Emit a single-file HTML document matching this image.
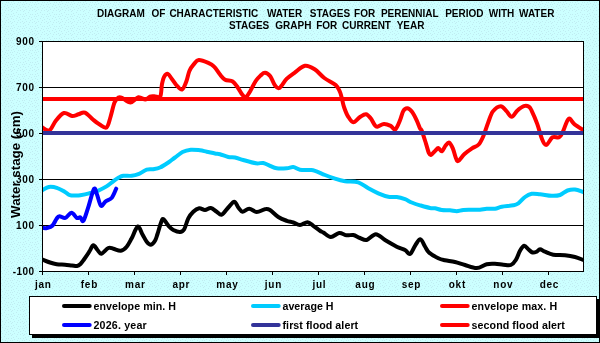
<!DOCTYPE html>
<html><head><meta charset="utf-8"><style>html,body{margin:0;padding:0;background:#fff;}svg{display:block;will-change:transform;}</style></head>
<body><svg width="600" height="343" viewBox="0 0 600 343"><defs><clipPath id="pc"><rect x="43" y="42" width="540" height="229"/></clipPath><pattern id="bgp" width="12" height="12" patternUnits="userSpaceOnUse"><rect width="12" height="12" fill="#CCFFFF"/><path d="M4 0h1v1h-1zM1 1h1v1h-1zM6 2h1v1h-1zM8 2h1v1h-1zM11 2h1v1h-1zM2 3h1v1h-1zM0 4h1v1h-1zM5 4h1v1h-1zM10 4h1v1h-1zM7 5h1v1h-1zM4 6h1v1h-1zM11 6h1v1h-1zM1 7h1v1h-1zM8 7h1v1h-1zM6 8h1v1h-1zM2 9h1v1h-1zM10 9h1v1h-1zM0 10h1v1h-1zM5 10h1v1h-1zM8 10h1v1h-1zM11 11h1v1h-1z" fill="#C0ECF1"/></pattern></defs>
<rect x="0" y="0" width="600" height="343" fill="url(#bgp)"/>
<rect x="0.5" y="0.5" width="599" height="342" fill="none" stroke="#000" stroke-width="1"/>
<g font-family='"Liberation Sans", sans-serif' font-weight="bold" font-size="10" fill="#000"><text x="97.1" y="17">DIAGRAM</text><text x="151.4" y="17">OF</text><text x="169.4" y="17">CHARACTERISTIC</text><text x="266.9" y="17">WATER</text><text x="309.8" y="17">STAGES</text><text x="354.1" y="17">FOR</text><text x="380.9" y="17">PERENNIAL</text><text x="445.2" y="17">PERIOD</text><text x="488.7" y="17">WITH</text><text x="519.0" y="17">WATER</text><text x="228.9" y="29">STAGES</text><text x="275.3" y="29">GRAPH</text><text x="316.2" y="29">FOR</text><text x="342.1" y="29">CURRENT</text><text x="396.7" y="29">YEAR</text></g>
<rect x="42.5" y="41.5" width="541" height="230" fill="#fff" stroke="#000" stroke-width="1"/>
<line x1="42" y1="87.5" x2="584" y2="87.5" stroke="#000" stroke-width="1"/>
<line x1="42" y1="133.5" x2="584" y2="133.5" stroke="#000" stroke-width="1"/>
<line x1="42" y1="179.5" x2="584" y2="179.5" stroke="#000" stroke-width="1"/>
<line x1="42" y1="225.5" x2="584" y2="225.5" stroke="#000" stroke-width="1"/>
<line x1="39" y1="41.5" x2="43" y2="41.5" stroke="#000" stroke-width="1"/>
<line x1="39" y1="87.5" x2="43" y2="87.5" stroke="#000" stroke-width="1"/>
<line x1="39" y1="133.5" x2="43" y2="133.5" stroke="#000" stroke-width="1"/>
<line x1="39" y1="179.5" x2="43" y2="179.5" stroke="#000" stroke-width="1"/>
<line x1="39" y1="225.5" x2="43" y2="225.5" stroke="#000" stroke-width="1"/>
<line x1="39" y1="271.5" x2="43" y2="271.5" stroke="#000" stroke-width="1"/>
<line x1="42.5" y1="271" x2="42.5" y2="275" stroke="#000" stroke-width="1"/>
<line x1="88.5" y1="271" x2="88.5" y2="275" stroke="#000" stroke-width="1"/>
<line x1="134.5" y1="271" x2="134.5" y2="275" stroke="#000" stroke-width="1"/>
<line x1="180.5" y1="271" x2="180.5" y2="275" stroke="#000" stroke-width="1"/>
<line x1="226.5" y1="271" x2="226.5" y2="275" stroke="#000" stroke-width="1"/>
<line x1="272.5" y1="271" x2="272.5" y2="275" stroke="#000" stroke-width="1"/>
<line x1="318.5" y1="271" x2="318.5" y2="275" stroke="#000" stroke-width="1"/>
<line x1="364.5" y1="271" x2="364.5" y2="275" stroke="#000" stroke-width="1"/>
<line x1="410.5" y1="271" x2="410.5" y2="275" stroke="#000" stroke-width="1"/>
<line x1="456.5" y1="271" x2="456.5" y2="275" stroke="#000" stroke-width="1"/>
<line x1="502.5" y1="271" x2="502.5" y2="275" stroke="#000" stroke-width="1"/>
<line x1="548.5" y1="271" x2="548.5" y2="275" stroke="#000" stroke-width="1"/>
<g font-family='"Liberation Sans", sans-serif' font-weight="bold" font-size="10" fill="#000"><text x="34" y="45.3" text-anchor="end" textLength="17.88" lengthAdjust="spacing">900</text><text x="34" y="91.3" text-anchor="end" textLength="17.88" lengthAdjust="spacing">700</text><text x="34" y="137.3" text-anchor="end" textLength="17.88" lengthAdjust="spacing">500</text><text x="34" y="183.3" text-anchor="end" textLength="17.88" lengthAdjust="spacing">300</text><text x="34" y="229.3" text-anchor="end" textLength="17.88" lengthAdjust="spacing">100</text><text x="34" y="275.3" text-anchor="end" textLength="21.21" lengthAdjust="spacing">-100</text><text x="43.0" y="287.5" text-anchor="middle" textLength="15.95" lengthAdjust="spacing">jan</text><text x="89.0" y="287.5" text-anchor="middle" textLength="16.50" lengthAdjust="spacing">feb</text><text x="135.0" y="287.5" text-anchor="middle" textLength="19.84" lengthAdjust="spacing">mar</text><text x="181.0" y="287.5" text-anchor="middle" textLength="17.06" lengthAdjust="spacing">apr</text><text x="227.0" y="287.5" text-anchor="middle" textLength="21.51" lengthAdjust="spacing">may</text><text x="273.0" y="287.5" text-anchor="middle" textLength="16.50" lengthAdjust="spacing">jun</text><text x="319.0" y="287.5" text-anchor="middle" textLength="13.17" lengthAdjust="spacing">jul</text><text x="365.0" y="287.5" text-anchor="middle" textLength="19.28" lengthAdjust="spacing">aug</text><text x="411.0" y="287.5" text-anchor="middle" textLength="18.73" lengthAdjust="spacing">sep</text><text x="457.0" y="287.5" text-anchor="middle" textLength="16.50" lengthAdjust="spacing">okt</text><text x="503.0" y="287.5" text-anchor="middle" textLength="19.28" lengthAdjust="spacing">nov</text><text x="549.0" y="287.5" text-anchor="middle" textLength="18.73" lengthAdjust="spacing">dec</text></g>
<text transform="translate(20.2,164.5) rotate(-90)" text-anchor="middle" font-family='"Liberation Sans", sans-serif' font-weight="bold" font-size="13.33" fill="#000">Water stage (cm)</text>
<g fill="none" stroke-linecap="round" stroke-linejoin="round" stroke-width="4" clip-path="url(#pc)">
<path d="M42.5,259.5 C43.8,260.0 47.6,261.7 50.0,262.5 C52.4,263.3 54.2,263.8 56.7,264.2 C59.2,264.6 62.5,264.5 65.0,264.7 C67.5,264.9 70.0,265.3 72.0,265.5 C74.0,265.7 75.6,266.2 77.0,266.0 C78.4,265.8 79.3,265.1 80.5,264.0 C81.7,262.9 82.5,261.6 84.0,259.5 C85.5,257.4 87.7,254.1 89.2,251.7 C90.8,249.3 91.9,245.6 93.3,245.3 C94.7,245.0 96.2,248.6 97.5,250.0 C98.8,251.4 99.5,254.0 101.3,253.7 C103.1,253.4 106.3,248.8 108.3,248.0 C110.3,247.2 111.2,248.2 113.3,248.7 C115.4,249.2 118.6,251.1 120.8,250.8 C123.0,250.5 124.9,248.8 126.7,246.7 C128.5,244.6 129.8,241.7 131.7,238.3 C133.5,234.9 136.0,227.1 137.8,226.5 C139.6,225.9 141.0,232.0 142.5,234.5 C144.0,237.0 145.3,240.0 146.7,241.7 C148.1,243.4 149.4,244.8 150.8,244.7 C152.2,244.5 153.9,242.6 155.0,240.8 C156.1,239.0 156.5,236.9 157.5,234.0 C158.5,231.1 159.8,225.8 160.8,223.3 C161.8,220.8 161.9,218.6 163.3,219.2 C164.7,219.8 167.5,224.9 169.2,226.7 C170.9,228.5 171.5,229.1 173.3,230.0 C175.1,230.9 178.2,232.1 180.0,232.0 C181.8,231.9 182.8,231.5 184.2,229.2 C185.6,226.9 186.8,221.2 188.3,218.3 C189.8,215.4 191.5,213.4 193.3,211.7 C195.1,210.0 197.2,208.6 199.2,208.3 C201.1,208.0 203.1,210.1 205.0,210.0 C206.9,209.9 208.9,207.7 210.8,208.0 C212.8,208.3 214.9,210.6 216.7,211.7 C218.5,212.8 219.8,215.4 221.7,214.7 C223.6,214.0 226.2,209.7 228.3,207.5 C230.4,205.3 232.5,201.7 234.2,201.7 C235.9,201.7 236.9,205.8 238.3,207.5 C239.7,209.2 240.7,211.5 242.5,211.7 C244.3,211.9 246.8,208.6 249.2,208.7 C251.6,208.8 254.1,211.9 256.7,212.0 C259.3,212.1 262.8,209.5 265.0,209.2 C267.2,208.9 267.8,208.7 270.0,210.0 C272.2,211.3 275.5,215.2 278.3,217.0 C281.1,218.8 284.2,219.9 286.7,220.8 C289.2,221.7 291.1,221.8 293.3,222.5 C295.5,223.2 297.6,225.1 300.0,225.0 C302.4,224.9 305.3,222.1 307.5,222.2 C309.7,222.3 311.2,224.4 313.3,225.8 C315.4,227.2 318.3,229.7 320.0,230.8 C321.7,231.9 321.5,231.5 323.3,232.5 C325.1,233.5 328.2,236.9 330.8,237.0 C333.4,237.1 336.6,233.3 339.2,233.0 C341.8,232.7 344.3,235.0 346.7,235.3 C349.1,235.6 351.1,234.6 353.3,235.0 C355.5,235.4 357.8,237.2 360.0,238.0 C362.2,238.8 364.1,240.6 366.7,240.0 C369.3,239.4 372.8,234.2 375.8,234.2 C378.9,234.2 381.5,237.9 385.0,240.0 C388.5,242.1 393.4,245.0 396.7,246.7 C400.0,248.4 402.8,248.8 405.0,250.0 C407.2,251.2 408.3,254.7 410.0,254.0 C411.7,253.3 413.3,248.3 415.0,245.8 C416.7,243.3 418.6,239.1 420.3,239.2 C422.0,239.3 423.6,244.3 425.0,246.5 C426.4,248.7 426.8,250.5 429.0,252.5 C431.2,254.5 435.6,257.0 438.3,258.3 C441.0,259.6 442.2,259.7 445.0,260.3 C447.8,260.9 451.7,261.2 455.0,262.0 C458.3,262.8 461.4,264.0 465.0,265.0 C468.6,266.0 473.1,268.1 476.7,268.0 C480.3,267.9 483.6,264.9 486.7,264.2 C489.8,263.5 492.2,263.7 495.0,263.8 C497.8,263.9 500.7,264.5 503.3,264.7 C505.9,264.9 508.7,265.8 510.8,265.0 C512.9,264.2 514.3,262.4 515.8,260.0 C517.3,257.6 518.6,253.2 520.0,250.8 C521.4,248.4 522.8,246.1 524.2,245.8 C525.6,245.5 526.9,248.1 528.3,249.2 C529.7,250.3 531.1,252.1 532.5,252.5 C533.9,252.9 535.5,252.2 536.7,251.7 C538.0,251.1 538.6,249.2 540.0,249.2 C541.4,249.2 542.8,250.8 545.0,251.7 C547.2,252.6 550.0,254.1 553.3,254.7 C556.6,255.3 561.4,254.9 565.0,255.3 C568.6,255.7 572.1,256.3 575.0,257.0 C577.9,257.7 581.2,259.2 582.5,259.7" stroke="#000"/>
<path d="M42.1,190.5 C43.2,189.9 46.2,187.3 48.8,186.9 C51.4,186.5 54.8,187.2 57.5,188.1 C60.2,188.9 62.9,190.8 65.0,192.0 C67.1,193.2 68.3,194.6 70.0,195.2 C71.7,195.8 73.3,195.6 75.0,195.6 C76.7,195.6 78.0,195.7 80.3,195.3 C82.6,194.9 86.1,194.2 89.0,193.4 C91.9,192.7 94.9,192.0 97.8,190.8 C100.7,189.6 103.9,188.0 106.5,186.4 C109.1,184.8 111.5,182.6 113.5,181.1 C115.5,179.6 117.2,178.5 118.8,177.6 C120.4,176.7 121.2,176.1 123.3,175.8 C125.4,175.5 129.2,176.1 131.7,175.8 C134.2,175.5 135.8,175.2 138.3,174.2 C140.8,173.2 144.2,170.5 146.7,169.7 C149.2,168.9 151.1,169.6 153.3,169.2 C155.5,168.8 157.5,168.6 160.0,167.5 C162.5,166.4 165.8,164.2 168.3,162.5 C170.8,160.8 172.6,159.2 175.0,157.5 C177.4,155.8 179.9,153.3 182.5,152.0 C185.1,150.7 187.9,150.0 190.8,149.7 C193.7,149.4 197.3,150.0 200.0,150.3 C202.7,150.6 204.2,151.2 206.7,151.7 C209.2,152.2 212.8,153.1 215.0,153.5 C217.2,153.9 217.8,153.6 220.0,154.2 C222.2,154.8 225.8,156.4 228.3,157.0 C230.8,157.6 232.5,157.0 235.0,157.5 C237.5,158.0 239.8,159.0 243.3,160.0 C246.8,161.0 252.7,162.8 256.0,163.3 C259.3,163.8 261.0,162.6 263.3,163.0 C265.6,163.4 267.8,164.9 270.0,165.8 C272.2,166.7 273.9,167.9 276.7,168.3 C279.5,168.7 283.9,168.5 286.7,168.3 C289.5,168.1 291.1,166.8 293.3,167.0 C295.5,167.2 297.2,169.2 300.0,169.7 C302.8,170.2 307.5,169.8 310.0,170.0 C312.5,170.2 312.5,170.0 315.0,170.8 C317.5,171.6 321.7,173.7 325.0,175.0 C328.3,176.3 331.7,177.6 335.0,178.7 C338.3,179.8 341.1,180.7 345.0,181.3 C348.9,181.9 354.4,181.1 358.3,182.3 C362.2,183.5 365.0,186.5 368.3,188.3 C371.6,190.1 375.0,191.9 378.3,193.3 C381.6,194.7 385.2,196.1 388.3,196.7 C391.4,197.3 393.9,196.6 396.7,197.0 C399.5,197.4 402.5,198.3 405.0,199.2 C407.5,200.1 409.2,201.5 411.7,202.5 C414.2,203.5 416.9,204.4 420.0,205.3 C423.1,206.2 427.5,207.5 430.0,208.0 C432.5,208.5 433.1,208.0 435.0,208.3 C436.9,208.6 439.2,209.7 441.7,210.0 C444.2,210.3 447.5,210.1 450.0,210.3 C452.5,210.5 454.5,211.2 456.7,211.2 C458.9,211.1 460.8,210.2 463.3,210.0 C465.8,209.8 468.9,209.8 471.7,209.7 C474.5,209.6 477.5,209.9 480.0,209.7 C482.5,209.5 484.2,208.9 486.7,208.7 C489.2,208.5 492.5,209.0 495.0,208.7 C497.5,208.4 498.6,207.3 501.7,206.7 C504.8,206.1 510.5,205.9 513.3,205.3 C516.1,204.7 516.3,204.7 518.3,203.3 C520.2,201.9 522.8,198.6 525.0,197.0 C527.2,195.4 529.2,194.3 531.7,193.8 C534.2,193.3 536.7,193.9 540.0,194.2 C543.3,194.5 548.4,195.7 551.7,195.8 C555.0,195.9 557.4,195.9 560.0,195.0 C562.6,194.1 565.0,191.4 567.5,190.5 C570.0,189.6 572.4,189.2 575.0,189.5 C577.6,189.8 581.9,191.6 583.3,192.0" stroke="#00CCFF"/>
<path d="M42.4,127.5 C43.2,128.0 45.6,130.0 47.0,130.3 C48.4,130.6 49.0,131.1 50.5,129.5 C52.0,127.9 53.8,123.2 56.0,120.5 C58.2,117.8 61.3,113.8 64.0,113.0 C66.7,112.2 69.6,115.8 72.0,116.0 C74.4,116.2 76.3,114.9 78.5,114.3 C80.7,113.7 82.5,111.7 84.9,112.6 C87.3,113.5 90.5,117.5 92.9,119.5 C95.3,121.5 97.0,123.0 99.3,124.3 C101.6,125.6 104.6,128.7 106.5,127.5 C108.4,126.3 109.2,121.2 110.5,117.0 C111.8,112.8 113.2,105.8 114.5,102.6 C115.8,99.3 117.2,98.3 118.5,97.5 C119.8,96.7 120.0,97.0 122.0,97.8 C124.0,98.6 127.8,102.6 130.5,102.5 C133.2,102.4 135.9,97.8 138.4,97.3 C140.9,96.8 143.5,99.7 145.4,99.6 C147.3,99.5 148.5,97.1 150.0,96.5 C151.5,95.9 152.7,96.2 154.4,96.2 C156.1,96.2 158.9,98.5 160.2,96.5 C161.5,94.5 161.3,87.3 162.0,84.0 C162.7,80.7 163.3,78.2 164.3,76.5 C165.3,74.8 166.5,73.4 167.8,73.8 C169.1,74.2 170.5,77.2 171.9,79.0 C173.3,80.8 174.5,83.0 176.2,84.8 C177.9,86.5 180.3,90.1 182.0,89.5 C183.7,88.9 185.3,84.1 186.5,81.0 C187.7,77.9 188.2,73.8 189.4,71.0 C190.6,68.2 192.1,66.2 193.7,64.4 C195.3,62.6 196.4,60.2 198.8,60.0 C201.2,59.8 205.8,61.8 208.3,62.9 C210.9,64.0 212.2,64.6 214.1,66.6 C216.0,68.5 218.2,72.4 220.0,74.6 C221.8,76.8 223.0,78.5 225.1,79.7 C227.2,80.9 230.6,80.2 232.7,81.5 C234.8,82.8 236.3,85.5 237.9,87.7 C239.5,89.9 240.9,93.2 242.3,94.7 C243.7,96.2 244.8,97.6 246.1,97.0 C247.4,96.4 248.6,93.8 250.2,91.2 C251.8,88.6 253.7,84.1 255.4,81.5 C257.1,78.9 259.1,76.9 260.7,75.4 C262.3,74.0 263.4,72.7 265.0,72.8 C266.6,72.9 268.7,74.3 270.3,76.3 C271.9,78.3 273.2,83.0 274.7,85.0 C276.2,87.0 277.3,89.0 279.3,88.0 C281.3,87.0 284.1,81.4 286.6,78.9 C289.1,76.4 291.4,75.0 294.5,72.8 C297.6,70.6 301.6,66.4 305.0,65.8 C308.4,65.2 311.5,67.3 314.7,69.3 C317.9,71.3 320.8,75.4 324.3,78.0 C327.8,80.6 333.1,82.7 335.7,85.0 C338.3,87.3 338.9,89.7 340.0,92.0 C341.1,94.3 341.3,96.5 342.0,99.0 C342.7,101.5 343.0,104.1 344.0,107.0 C345.0,109.9 346.4,113.8 348.0,116.3 C349.6,118.8 351.3,122.2 353.3,122.3 C355.3,122.4 357.9,118.3 360.0,117.0 C362.1,115.7 364.2,114.1 366.0,114.3 C367.8,114.5 369.2,116.5 370.7,118.3 C372.1,120.1 373.6,123.6 374.7,125.0 C375.8,126.4 375.8,126.9 377.3,126.7 C378.9,126.5 381.8,124.1 384.0,124.0 C386.2,123.9 388.8,125.0 390.7,125.9 C392.6,126.8 393.8,130.3 395.3,129.4 C396.9,128.5 398.7,123.4 400.0,120.3 C401.3,117.2 402.1,113.0 403.3,111.0 C404.5,109.0 405.9,108.2 407.3,108.3 C408.8,108.4 410.4,109.7 412.0,111.7 C413.6,113.7 415.4,117.5 416.7,120.3 C418.0,123.1 419.2,126.7 420.0,128.3 C420.8,130.0 420.6,127.7 421.6,130.2 C422.6,132.7 424.7,139.5 425.9,143.3 C427.1,147.1 427.9,150.9 428.8,152.8 C429.7,154.7 429.9,155.3 431.0,154.9 C432.1,154.5 434.2,151.8 435.4,150.6 C436.6,149.4 437.2,147.9 438.3,148.0 C439.4,148.1 440.7,151.7 441.9,151.3 C443.1,150.9 444.4,146.9 445.6,145.5 C446.8,144.1 448.0,142.1 449.2,142.6 C450.4,143.1 451.7,145.9 452.8,148.4 C453.9,150.9 454.9,155.7 455.8,157.8 C456.7,159.9 456.8,161.6 458.2,161.0 C459.6,160.4 462.2,156.1 464.5,154.0 C466.8,151.9 469.6,149.9 472.0,148.3 C474.4,146.7 476.8,146.6 478.7,144.5 C480.6,142.4 481.8,139.6 483.4,136.0 C485.0,132.4 486.5,126.8 488.1,122.7 C489.7,118.6 490.8,114.2 492.9,111.4 C495.0,108.7 498.5,106.2 500.8,106.2 C503.1,106.2 504.9,109.7 506.7,111.4 C508.5,113.2 509.9,116.8 511.7,116.7 C513.5,116.6 515.2,112.5 517.2,110.7 C519.2,109.0 521.8,106.9 523.8,106.2 C525.8,105.5 527.7,106.0 529.0,106.8 C530.3,107.6 530.3,107.9 531.7,110.8 C533.1,113.7 535.6,119.4 537.3,124.1 C539.0,128.8 540.6,135.7 542.1,139.2 C543.6,142.7 544.7,145.2 546.4,144.9 C548.1,144.6 550.4,138.6 552.5,137.3 C554.6,136.0 557.4,138.2 559.1,137.3 C560.8,136.4 561.3,134.8 562.9,131.7 C564.5,128.6 566.7,120.1 568.6,118.8 C570.5,117.5 571.9,122.3 574.3,124.1 C576.7,125.9 581.4,128.9 582.8,129.8" stroke="#FF0000"/>
<path d="M42.6,228.0 C43.3,228.0 45.4,228.4 47.0,228.0 C48.6,227.6 50.7,227.3 52.3,225.8 C53.9,224.3 55.4,220.4 56.6,218.8 C57.8,217.2 57.8,216.3 59.3,216.2 C60.8,216.0 63.4,218.5 65.4,217.9 C67.4,217.3 69.6,212.7 71.5,212.7 C73.4,212.7 75.3,217.1 76.8,217.9 C78.3,218.7 79.2,216.9 80.3,217.4 C81.4,217.9 82.1,222.6 83.4,220.9 C84.7,219.2 86.5,212.7 88.2,207.4 C90.0,202.1 92.5,191.2 93.9,189.0 C95.4,186.8 95.7,191.5 96.9,194.3 C98.1,197.1 99.4,204.4 100.9,205.6 C102.4,206.8 103.9,202.6 105.7,201.3 C107.5,200.0 110.0,199.9 111.8,197.8 C113.5,195.7 115.5,190.2 116.2,188.7" stroke="#0000FF"/>
<line x1="43" y1="133" x2="583" y2="133" stroke="#333399" stroke-linecap="butt"/>
<line x1="43" y1="99" x2="583" y2="99" stroke="#FF0000" stroke-linecap="butt"/>
</g>
<rect x="32" y="299" width="568" height="39" fill="#000"/>
<rect x="29.5" y="296.5" width="567" height="38" fill="#fff" stroke="#000" stroke-width="1"/>
<line x1="64" y1="306" x2="89.7" y2="306" stroke="#000" stroke-width="4" stroke-linecap="round"/>
<line x1="253" y1="306" x2="278.7" y2="306" stroke="#00CCFF" stroke-width="4" stroke-linecap="round"/>
<line x1="442" y1="306" x2="467.7" y2="306" stroke="#FF0000" stroke-width="4" stroke-linecap="round"/>
<line x1="64" y1="325" x2="89.7" y2="325" stroke="#0000FF" stroke-width="4" stroke-linecap="round"/>
<line x1="253" y1="325" x2="278.7" y2="325" stroke="#333399" stroke-width="4" stroke-linecap="round"/>
<line x1="442" y1="325" x2="467.7" y2="325" stroke="#FF0000" stroke-width="4" stroke-linecap="round"/>
<g font-family='"Liberation Sans", sans-serif' font-weight="bold" font-size="10.67" fill="#000"><text x="93.5" y="310" textLength="82.5" lengthAdjust="spacing">envelope min. H</text><text x="282.5" y="310" textLength="51.0" lengthAdjust="spacing">average H</text><text x="471.5" y="310" textLength="85.7" lengthAdjust="spacing">envelope max. H</text><text x="93.5" y="329" textLength="53.15" lengthAdjust="spacing">2026. year</text><text x="282.5" y="329" textLength="75.65" lengthAdjust="spacing">first flood alert</text><text x="471.5" y="329" textLength="93.25" lengthAdjust="spacing">second flood alert</text></g>
</svg></body></html>
